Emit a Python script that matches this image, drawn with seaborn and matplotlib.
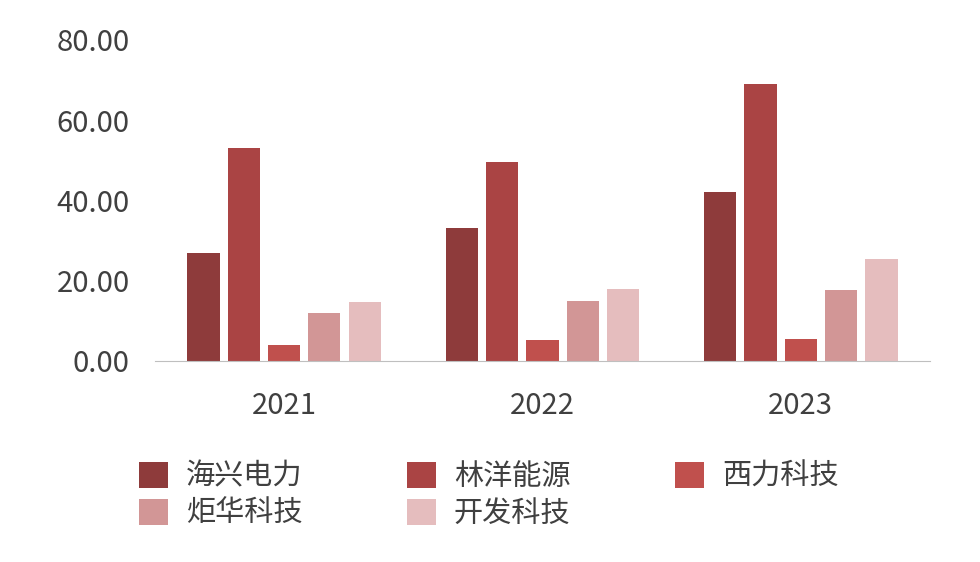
import matplotlib
matplotlib.use("Agg")
import matplotlib.pyplot as plt
import seaborn as sns
import pandas as pd

years = ["2021", "2022", "2023"]
companies = ["海兴电力", "林洋能源", "西力科技", "炬华科技", "开发科技"]
haixing = [26.9, 33.1, 42.1]
linyang = [53.1, 49.6, 69.0]
xili = [4.0, 5.2, 5.5]
juhua = [12.0, 15.0, 17.7]
kaifa = [14.7, 17.9, 25.4]
colors = ["#8E3B3B", "#AA4444", "#C0504D", "#D29696", "#E5BDBE"]

rows = []
for name, vals in zip(companies, [haixing, linyang, xili, juhua, kaifa]):
    for y, v in zip(years, vals):
        rows.append({"year": y, "company": name, "value": v})
df = pd.DataFrame(rows)

plt.rcParams["font.family"] = "sans-serif"
plt.rcParams["font.sans-serif"] = ["Noto Sans CJK SC", "Noto Sans CJK JP", "DejaVu Sans"]
fig = plt.figure(figsize=(9.8, 5.62), dpi=100)
ax = fig.add_axes([0.158, 0.358, 0.791, 0.571])
sns.barplot(data=df, x="year", y="value", hue="company", hue_order=companies,
            palette=colors, width=0.78, ax=ax, saturation=1, legend=True)
for p in ax.patches:
    w = p.get_width()
    if w > 0:
        p.set_x(p.get_x() + w * 0.1)
        p.set_width(w * 0.8)
ax.set_xlim(-0.5, 2.5)
ax.set_ylim(0, 80)
ax.set_yticks([0, 20, 40, 60, 80])
ax.set_yticklabels(["0.00", "20.00", "40.00", "60.00", "80.00"])
ax.set_xlabel("")
ax.set_ylabel("")
for s in ["top", "right", "left"]:
    ax.spines[s].set_visible(False)
ax.spines["bottom"].set_color("#BFBFBF")
ax.tick_params(axis="y", length=0, labelsize=21, labelcolor="#404040", pad=18)
ax.tick_params(axis="x", length=0, labelsize=21, labelcolor="#404040", pad=22)
h, l = ax.get_legend_handles_labels()
ax.legend_.remove()
order = [0, 3, 1, 4, 2]
fig.legend([h[i] for i in order], [l[i] for i in order], loc="upper left",
           bbox_to_anchor=(0.115, 0.225), ncol=3,
           frameon=False, fontsize=21, handlelength=1.0, handleheight=1.0,
           columnspacing=3.6, labelspacing=0.25, handletextpad=0.6,
           labelcolor="#404040")
fig.savefig("out.png", dpi=100)
